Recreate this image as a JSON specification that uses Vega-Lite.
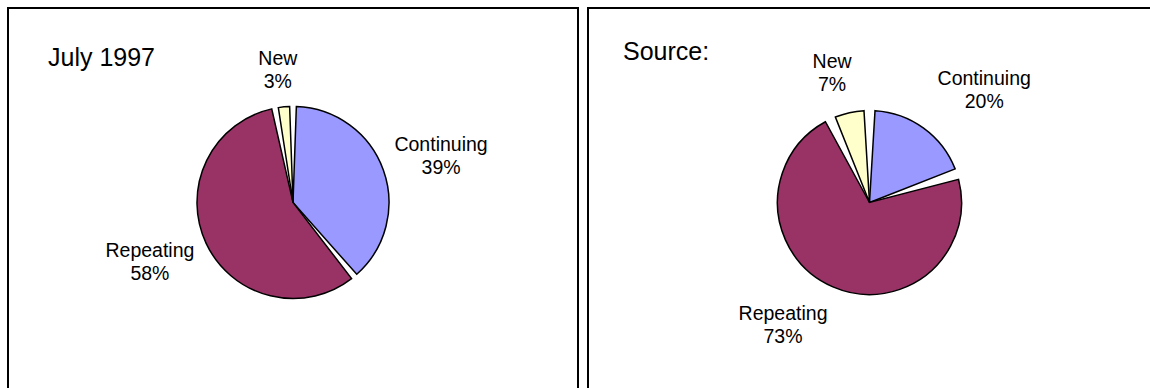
{
  "$schema": "https://vega.github.io/schema/vega-lite/v6.json",
  "autosize": {"type": "pad"},
  "padding": {"left": 7, "top": 7, "right": -2, "bottom": -10},
  "background": "white",
  "config": {
    "font": "Liberation Sans",
    "concat": {"spacing": 8},
    "view": {"stroke": "black", "strokeWidth": 2}
  },
  "datasets": {
    "july": [
      {"category": "Continuing", "share": 39, "label": "Continuing\n39%"},
      {"category": "Repeating", "share": 58, "label": "Repeating\n58%"},
      {"category": "New", "share": 3, "label": "New\n3%"}
    ],
    "source": [
      {"category": "Continuing", "share": 20, "label": "Continuing\n20%"},
      {"category": "Repeating", "share": 73, "label": "Repeating\n73%"},
      {"category": "New", "share": 7, "label": "New\n7%"}
    ]
  },
  "hconcat": [
    {
      "width": 570,
      "height": 389,
      "view": {"stroke": "black", "strokeWidth": 2},
      "title": {"text": "July 1997", "anchor": "start", "orient": "top", "frame": "group", "offset": -83, "baseline": "alphabetic", "dx": 40, "fontSize": 25, "fontWeight": "normal", "font": "Liberation Sans", "color": "black"},
      "data": {"name": "july"},
      "transform": [{"window": [{"op": "row_number", "as": "idx"}]}],
      "encoding": {
        "theta": {"field": "share", "type": "quantitative", "stack": true},
        "order": {"field": "idx", "type": "quantitative"}
      },
      "layer": [
        {
          "mark": {"type": "arc", "outerRadius": 96, "padAngle": 0.07, "stroke": "black", "strokeWidth": 1.5},
          "encoding": {
            "color": {"field": "category", "type": "nominal", "scale": {"domain": ["Continuing", "Repeating", "New"], "range": ["#9999FF", "#993366", "#FFFFCC"]}, "legend": null}
          }
        },
        {
          "mark": {"type": "text", "radius": {"expr": "datum.category === 'New' ? 133 : 155"}, "thetaOffset": {"expr": "datum.category === 'New' ? -0.02 : 0.045"}, "dy": -11.5, "fontSize": 19.5, "lineHeight": 23, "lineBreak": "\n", "align": "center", "baseline": "middle", "color": "black", "font": "Liberation Sans"},
          "encoding": {"text": {"field": "label", "type": "nominal"}}
        }
      ]
    },
    {
      "width": 563,
      "height": 389,
      "view": {"stroke": "black", "strokeWidth": 2},
      "title": {"text": "Source:", "anchor": "start", "orient": "top", "frame": "group", "offset": -77, "baseline": "alphabetic", "dx": 35, "fontSize": 25, "fontWeight": "normal", "font": "Liberation Sans", "color": "black"},
      "data": {"name": "source"},
      "transform": [{"window": [{"op": "row_number", "as": "idx"}]}],
      "encoding": {
        "theta": {"field": "share", "type": "quantitative", "stack": true},
        "order": {"field": "idx", "type": "quantitative"}
      },
      "layer": [
        {
          "mark": {"type": "arc", "outerRadius": 92, "padAngle": 0.12, "stroke": "black", "strokeWidth": 1.5},
          "encoding": {
            "color": {"field": "category", "type": "nominal", "scale": {"domain": ["Continuing", "Repeating", "New"], "range": ["#9999FF", "#993366", "#FFFFCC"]}, "legend": null}
          }
        },
        {
          "mark": {"type": "text", "radius": {"expr": "datum.category === 'New' ? 134 : datum.category === 'Continuing' ? 160 : 150"}, "thetaOffset": {"expr": "datum.category === 'New' ? -0.063 : datum.category === 'Continuing' ? 0.171 : 0.206"}, "dy": -11.5, "fontSize": 19.5, "lineHeight": 23, "lineBreak": "\n", "align": "center", "baseline": "middle", "color": "black", "font": "Liberation Sans"},
          "encoding": {"text": {"field": "label", "type": "nominal"}}
        }
      ]
    }
  ]
}
